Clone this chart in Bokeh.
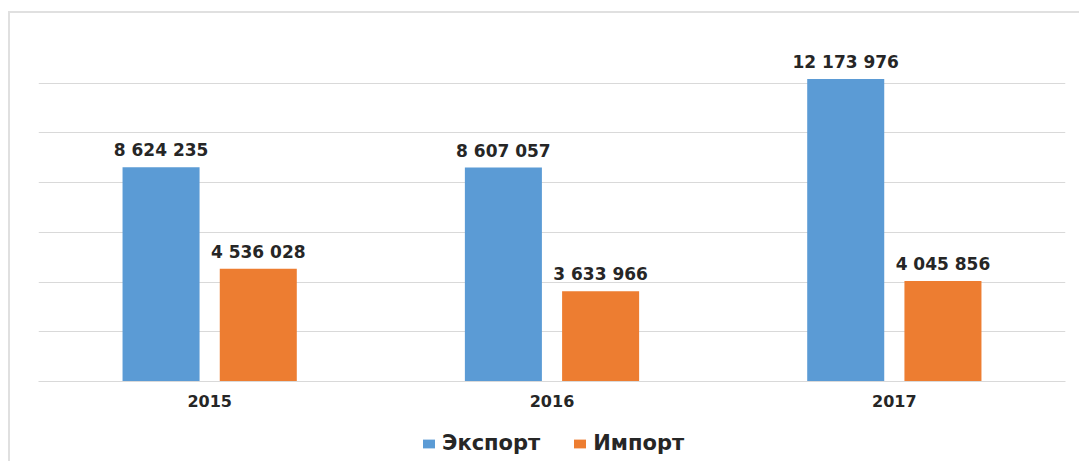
from bokeh.plotting import figure
from bokeh.layouts import column
from bokeh.models import ColumnDataSource, FactorRange, Range1d, LabelSet, Legend, LegendItem, SingleIntervalTicker
from bokeh.transform import dodge
from bokeh.core.properties import value
from bokeh.embed import file_html
from bokeh.resources import INLINE

years = ["2015", "2016", "2017"]
export_vals = [8624235, 8607057, 12173976]
import_vals = [4536028, 3633966, 4045856]
series_names = ["Экспорт", "Импорт"]

def fmt(v):
    return f"{v:,}".replace(",", " ")

src = ColumnDataSource(dict(
    year=years,
    exp=export_vals,
    imp=import_vals,
    exp_lbl=[fmt(v) for v in export_vals],
    imp_lbl=[fmt(v) for v in import_vals],
))

BLUE = "#5B9BD5"
ORANGE = "#ED7D31"
TXT = "#262626"
FONT = value("DejaVu Sans")

p = figure(frame_width=1027, frame_height=348, x_range=FactorRange(*years, range_padding=0),
           y_range=Range1d(0, 14e6), output_backend="svg", toolbar_location=None,
           min_border_left=28, min_border_right=14, min_border_top=20, min_border_bottom=40)

off = 0.142
w = 0.225
r1 = p.vbar(x=dodge("year", -off, range=p.x_range), top="exp", width=w, source=src,
            fill_color=BLUE, line_color=None)
r2 = p.vbar(x=dodge("year", off, range=p.x_range), top="imp", width=w, source=src,
            fill_color=ORANGE, line_color=None)

for col, lbl, o in [("exp", "exp_lbl", -off), ("imp", "imp_lbl", off)]:
    ls = LabelSet(x=dodge("year", o, range=p.x_range), y=col, text=lbl, source=src,
                  text_align="center", text_baseline="bottom", y_offset=7,
                  text_font=FONT, text_font_style="bold", text_font_size="17px",
                  text_color=TXT)
    p.add_layout(ls)

p.yaxis.visible = False
p.ygrid.ticker = SingleIntervalTicker(interval=2e6)
p.ygrid.grid_line_color = "#d9d9d9"
p.ygrid.grid_line_width = 1
p.xgrid.grid_line_color = None
p.outline_line_color = None

xa = p.xaxis[0]
xa.axis_line_color = "#d9d9d9"
xa.major_tick_line_color = None
xa.minor_tick_line_color = None
xa.major_tick_out = 0
xa.major_tick_in = 0
xa.major_label_standoff = 13
xa.major_label_text_font = "DejaVu Sans"
xa.major_label_text_font_style = "bold"
xa.major_label_text_font_size = "16px"
xa.major_label_text_color = TXT

# legend strip below the chart: same bars, hidden, only their legend entries show
lg = figure(width=1069, height=40, output_backend="svg", toolbar_location=None,
            x_range=FactorRange(*years), y_range=Range1d(0, 14e6),
            min_border=0, x_axis_location=None, y_axis_location=None)
lg.outline_line_color = None
lg.grid.visible = False
d1 = lg.vbar(x="year", top="exp", width=w, source=src, fill_color=BLUE, line_color=None)
d2 = lg.vbar(x="year", top="imp", width=w, source=src, fill_color=ORANGE, line_color=None)
d1.visible = False
d2.visible = False

legend = Legend(items=[LegendItem(label=series_names[0], renderers=[d1]),
                       LegendItem(label=series_names[1], renderers=[d2])],
                orientation="horizontal", location=(383, 6))
legend.label_text_font = "DejaVu Sans"
legend.label_text_font_style = "bold"
legend.label_text_font_size = "21px"
legend.label_text_color = TXT
legend.glyph_width = 15
legend.glyph_height = 11
legend.label_standoff = 6
legend.spacing = 32
legend.border_line_color = None
legend.background_fill_alpha = 0
legend.inactive_fill_alpha = 0
legend.margin = 0
legend.padding = 4
lg.add_layout(legend, "center")

layout = column(p, lg, spacing=0,
                styles={"border-left": "2px solid #e0e0e0", "border-top": "2px solid #e0e0e0",
                        "margin-top": "11px", "margin-left": "8px"})

open("out.html", "w").write(file_html(layout, INLINE))
